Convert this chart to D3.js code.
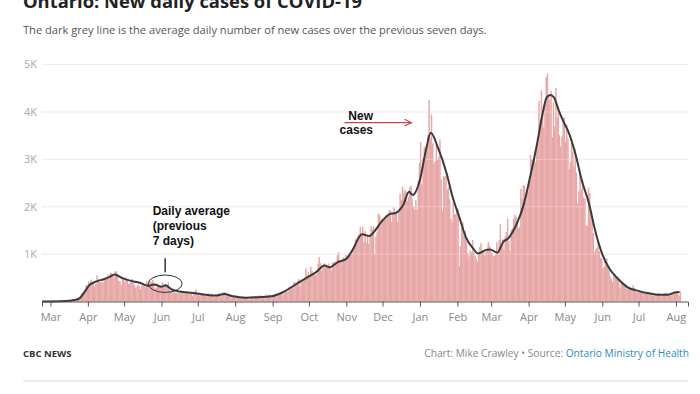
<!DOCTYPE html>
<html><head><meta charset="utf-8">
<script src="https://cdn.jsdelivr.net/npm/d3@7"></script>
<style>
html,body{margin:0;padding:0;background:#fff;overflow:hidden;}
svg{display:block;font-family:"Open Sans",sans-serif;}
</style></head><body>
<svg id="chart" width="700" height="394"></svg>
<script>
// ---------------- DATA ----------------
const firstDay = "2020-02-23";
// daily new cases, one value per day starting at firstDay
const dailyCases = [
// Feb 23-29 2020
0,0,1,0,1,0,2,
// Mar 2020
1,3,2,1,5,3,3,6,4,5,5,17,20,21,24,32,39,25,44,50,44,82,78,73,100,170,200,230,260,350,330,
// Apr 2020
426,401,462,375,408,309,379,550,478,411,401,421,403,483,494,514,564,478,606,602,551,510,640,634,579,437,424,347,525,459,
// May 2020
421,511,434,370,387,412,477,399,346,294,308,361,329,258,341,391,340,304,427,390,413,441,412,460,404,287,292,383,344,323,326,
// Jun 2020
404,335,338,356,344,415,243,215,251,182,203,182,180,184,181,173,190,173,175,178,206,161,184,163,189,111,160,212,257,157,
// Jul 2020
153,121,156,165,138,154,112,118,179,116,130,166,116,111,102,111,129,164,135,103,203,165,195,138,127,138,111,76,86,89,134,
// Aug 2020
88,129,97,76,95,84,102,70,74,87,73,33,95,89,109,70,115,100,125,87,131,101,103,105,80,149,118,148,137,134,107,
// Sep 2020
114,133,132,148,169,158,190,185,149,170,213,232,204,313,251,315,293,401,407,365,425,478,335,409,409,435,491,700,554,625,
// Oct 2020
538,732,653,566,615,548,583,797,939,809,649,746,807,721,783,712,805,704,658,821,827,841,826,978,1042,851,827,834,934,896,977,
// Nov 2020
977,948,987,998,1003,1132,1132,1328,1242,1388,1426,1575,1396,1581,1248,1487,1249,1417,1210,1418,1588,1534,1589,1009,1373,1478,1855,1822,1708,1746,
// Dec 2020
1707,1723,1824,1780,1859,1924,1925,1676,1890,1983,1848,1873,1677,1940,2275,2139,2432,2290,2357,2316,2123,2202,2408,2447,2159,2005,1939,2142,1939,2553,2923,
// Jan 2021
3363,2476,3021,3270,3128,3266,3519,4249,3443,3945,3338,2903,2961,3326,2998,3056,3422,2578,1913,2655,2632,2662,2359,2417,2154,1740,1670,2093,1837,1848,1969,
// Feb 2021
1958,745,1172,1563,1670,1388,1489,1265,1022,945,1076,1041,1300,1042,964,904,847,1038,1150,1228,1087,1058,975,1054,1138,1258,1185,1062,
// Mar 2021
1023,966,958,994,1250,990,1299,1631,1185,1316,1092,1371,1468,1747,1268,1074,1508,1553,1745,1829,1791,1699,1546,1571,2380,2169,2453,2448,2094,2336,2333,
// Apr 2021
2557,3089,3009,2938,3041,2938,3215,3295,4227,3813,4456,3947,3670,4156,4736,4812,4362,4250,4447,3469,4212,3682,4505,3885,4094,3510,3265,3480,3871,3887,
// May 2021
3369,3732,3436,2791,2941,3424,3166,2864,3216,2716,2073,2320,2759,2362,2584,2199,2170,1616,1588,2400,2290,1890,1691,1446,1039,1095,1135,1273,1057,916,916,
// Jun 2021
699,733,870,914,744,663,525,469,411,590,574,502,530,447,296,384,370,345,318,355,270,255,296,255,256,346,287,210,184,200,
// Jul 2021
209,200,231,194,170,164,194,210,179,185,166,114,146,153,143,159,176,166,130,127,150,170,192,170,157,119,129,185,172,192,208,
// Aug 1-4 2021
218,164,125,213
];

// seven-day average (dark grey line)
const avgDates = [
"2020-02-23","2020-03-09","2020-03-17","2020-03-21","2020-03-25","2020-03-29","2020-04-02","2020-04-08","2020-04-14","2020-04-19",
"2020-04-23","2020-04-29","2020-05-06","2020-05-14","2020-05-21","2020-05-26","2020-06-01","2020-06-04","2020-06-09","2020-06-16",
"2020-06-27","2020-07-08","2020-07-16","2020-07-23","2020-07-30","2020-08-10","2020-08-20","2020-08-31","2020-09-09","2020-09-21",
"2020-09-30","2020-10-07","2020-10-14","2020-10-18","2020-10-25","2020-11-01","2020-11-06","2020-11-14","2020-11-20","2020-11-24",
"2020-11-30","2020-12-07","2020-12-12","2020-12-18","2020-12-23","2020-12-26","2021-01-01","2021-01-06","2021-01-10","2021-01-16",
"2021-01-23","2021-01-28","2021-02-03","2021-02-08","2021-02-14","2021-02-18","2021-02-25","2021-02-28","2021-03-06","2021-03-11",
"2021-03-15","2021-03-22","2021-03-28","2021-04-02","2021-04-08","2021-04-12","2021-04-16","2021-04-19","2021-04-22","2021-04-26",
"2021-04-30","2021-05-04","2021-05-10","2021-05-15","2021-05-21","2021-05-26","2021-06-01","2021-06-07","2021-06-14","2021-06-22",
"2021-06-30","2021-07-09","2021-07-17","2021-07-25","2021-07-31","2021-08-04"
];
const avgValues = [
0,4,15,30,65,190,340,425,470,520,
570,500,440,395,330,360,310,345,260,210,
180,140,125,160,110,80,90,110,190,375,
515,620,760,720,830,900,1080,1420,1380,1470,
1680,1845,1870,2030,2315,2250,2570,3200,3560,3240,
2710,2210,1750,1360,1120,1015,1090,1100,1030,1260,
1330,1630,2050,2600,3330,3890,4310,4360,4310,4030,
3790,3580,3090,2560,2070,1510,1000,690,480,300,
230,175,145,140,190,200
];

const yTicks = [1000,2000,3000,4000,5000];
const yTickLabels = ["1K","2K","3K","4K","5K"];
const xTickLabels = ["Mar","Apr","May","Jun","Jul","Aug","Sep","Oct","Nov","Dec","Jan","Feb","Mar","Apr","May","Jun","Jul","Aug"];

const titleText = "Ontario: New daily cases of COVID-19";
const subtitleText = "The dark grey line is the average daily number of new cases over the previous seven days.";

// ---------------- CHART ----------------
const svg = d3.select("#chart");
const parse = d3.timeParse("%Y-%m-%d");
const start = parse(firstDay);
const days = dailyCases.map((v, i) => ({date: d3.timeDay.offset(start, i), value: v}));
const avg = avgDates.map((d, i) => ({date: parse(d), value: avgValues[i]}));

const x = d3.scaleTime().domain([parse("2020-02-23"), parse("2021-08-11")]).range([42, 688]);
const y = d3.scaleLinear().domain([0, 5000]).range([301.5, 64.6]);

function fitText(sel, target) {
  const fs = parseFloat(sel.attr("font-size"));
  const w = sel.node().getComputedTextLength();
  sel.attr("font-size", (fs * target / w).toFixed(2));
}

// title & subtitle
const title = svg.append("text").attr("x", 23).attr("y", 7.5)
  .attr("font-size", 20).attr("font-weight", 700).attr("fill", "#222").text(titleText);
fitText(title, 339);
const sub = svg.append("text").attr("x", 23).attr("y", 34)
  .attr("font-size", 12).attr("fill", "#555").text(subtitleText);
fitText(sub, 464);

// gridlines (under bars)
svg.append("g").selectAll("line").data(yTicks).join("line")
  .attr("x1", 42).attr("x2", 688)
  .attr("y1", d => y(d)).attr("y2", d => y(d))
  .attr("stroke", "#e6e6e6").attr("stroke-width", 1);

// y labels
svg.append("g").selectAll("text").data(yTicks).join("text")
  .attr("x", 37).attr("y", d => y(d)).attr("dy", "0.35em")
  .attr("text-anchor", "end").attr("font-size", 11).attr("fill", "#aaa")
  .text((d, i) => yTickLabels[i]);

// bars
const dayW = x(d3.timeDay.offset(start, 1)) - x(start);
svg.append("g").selectAll("rect").data(days).join("rect")
  .attr("x", d => x(d.date))
  .attr("width", dayW + 0.25)
  .attr("y", d => y(d.value))
  .attr("height", d => y(0) - y(d.value))
  .attr("fill", "#e8a7a7");

// faint gridlines over bars
svg.append("g").selectAll("line").data(yTicks).join("line")
  .attr("x1", 42).attr("x2", 688)
  .attr("y1", d => y(d)).attr("y2", d => y(d))
  .attr("stroke", "#fff").attr("stroke-opacity", 0.3).attr("stroke-width", 1);

// average line
svg.append("path").datum(avg)
  .attr("fill", "none").attr("stroke", "#3a3a3a").attr("stroke-width", 2)
  .attr("stroke-linejoin", "round")
  .attr("d", d3.line().x(d => x(d.date)).y(d => y(d.value)).curve(d3.curveMonotoneX));

// x axis
const monthTicks = d3.timeMonth.range(parse("2020-03-01"), parse("2021-08-02"));
const xAxis = d3.axisBottom(x).tickValues(monthTicks)
  .tickFormat((d, i) => xTickLabels[i]).tickSizeOuter(0).tickSize(5).tickPadding(7);
const gx = svg.append("g").attr("transform", `translate(0,${y(0)})`).call(xAxis);
gx.select(".domain").attr("stroke", "#555");
gx.selectAll(".tick line").attr("stroke", "#555");
gx.selectAll(".tick text").attr("fill", "#888").attr("font-size", 11)
  .attr("font-family", "Open Sans, sans-serif");

// annotations
const annoFont = "Liberation Sans, Arial, sans-serif";
const eDate = parse("2020-06-04");
const ex = x(eDate), ey = y(375);
svg.append("ellipse").attr("cx", ex).attr("cy", ey).attr("rx", 17).attr("ry", 8.7)
  .attr("fill", "none").attr("stroke", "#333").attr("stroke-width", 1);
svg.append("line").attr("x1", ex).attr("x2", ex).attr("y1", ey - 25.5).attr("y2", ey - 11.5)
  .attr("stroke", "#333").attr("stroke-width", 1.5);
const avgLabel = svg.append("text").attr("font-family", annoFont).attr("font-size", 12)
  .attr("font-weight", 700).attr("fill", "#111");
["Daily average", "(previous", "7 days)"].forEach((t, i) => {
  avgLabel.append("tspan").attr("x", ex - 12.5).attr("y", ey - 68.5 + i * 15).text(t);
});

const arrowEndX = x(parse("2020-12-25")), arrowY = y(3775);
const red = "#c9424a";
svg.append("line").attr("x1", arrowEndX - 67).attr("x2", arrowEndX)
  .attr("y1", arrowY).attr("y2", arrowY).attr("stroke", red).attr("stroke-width", 1.1);
svg.append("path")
  .attr("d", `M${arrowEndX - 7},${arrowY - 3.3}L${arrowEndX},${arrowY}L${arrowEndX - 7},${arrowY + 3.3}`)
  .attr("fill", "none").attr("stroke", red).attr("stroke-width", 1.1);
const newLabel = svg.append("text").attr("font-family", annoFont).attr("font-size", 12)
  .attr("font-weight", 700).attr("fill", "#111").attr("text-anchor", "end");
["New", "cases"].forEach((t, i) => {
  newLabel.append("tspan").attr("x", arrowEndX - 38.5).attr("y", arrowY - 2.7 + i * 14.5).text(t);
});

// footer
svg.append("text").attr("x", 23).attr("y", 356.5).attr("font-size", 9.5)
  .attr("font-weight", 700).attr("fill", "#333").text("CBC NEWS");
const credit = svg.append("text").attr("x", 689).attr("y", 356.5).attr("font-size", 10)
  .attr("text-anchor", "end").attr("fill", "#888");
credit.append("tspan").text("Chart: Mike Crawley \u2022 Source: ");
credit.append("tspan").attr("fill", "#2a8dc0").text("Ontario Ministry of Health");
fitText(credit, 265);
svg.append("line").attr("x1", 23).attr("x2", 688).attr("y1", 381).attr("y2", 381)
  .attr("stroke", "#ddd").attr("stroke-width", 1.2);
</script>
</body></html>
